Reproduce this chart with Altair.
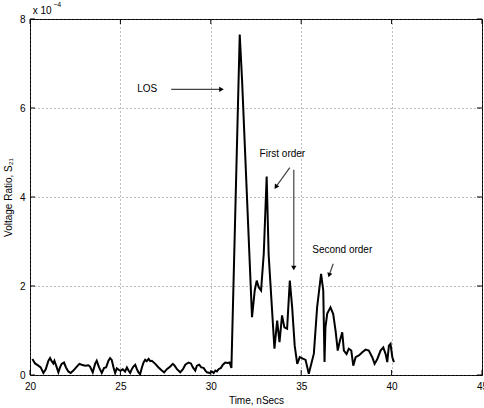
import altair as alt
import pandas as pd

# Time axis (ns) and voltage ratio |S21| in units of 1e-4
time_ns = [20.13, 20.28, 20.46, 20.59, 20.74, 20.87, 21.02, 21.11, 21.20, 21.29,
           21.35, 21.48, 21.57, 21.66, 21.75, 21.88, 21.99, 22.12, 22.25, 22.40,
           22.59, 22.73, 22.86, 23.05, 23.23, 23.32, 23.47, 23.60, 23.69, 23.82,
           23.97, 24.10, 24.21, 24.34, 24.43, 24.52, 24.62, 24.71, 24.80, 24.93,
           25.02, 25.13, 25.26, 25.36, 25.45, 25.54, 25.63, 25.72, 25.82, 25.91,
           26.00, 26.09, 26.19, 26.28, 26.37, 26.46, 26.56, 26.65, 26.74, 26.93,
           27.11, 27.29, 27.42, 27.57, 27.76, 27.90, 28.00, 28.13, 28.31, 28.46,
           28.59, 28.77, 28.90, 29.01, 29.14, 29.23, 29.36, 29.47, 29.60, 29.70,
           29.79, 29.94, 30.06, 30.16, 30.25, 30.34, 30.43, 30.56, 30.67, 30.80,
           30.93, 31.04, 31.14, 31.60, 31.73, 32.28, 32.43, 32.54, 32.65, 32.78,
           32.93, 33.09, 33.20, 33.52, 33.67, 33.80, 33.94, 34.07, 34.22, 34.37,
           34.50, 34.64, 34.78, 34.92, 35.09, 35.24, 35.42, 35.70, 35.88, 36.10,
           36.22, 36.29, 36.34, 36.44, 36.62, 36.77, 36.90, 37.02, 37.14, 37.27,
           37.36, 37.51, 37.63, 37.77, 37.88, 38.01, 38.19, 38.38, 38.56, 38.74,
           38.93, 39.06, 39.21, 39.39, 39.54, 39.67, 39.76, 39.85, 39.94, 40.04,
           40.13]
volt = [0.36, 0.26, 0.21, 0.17, 0.045, 0.13, 0.32, 0.38, 0.31, 0.26,
        0.32, 0.17, 0.06, 0.17, 0.25, 0.28, 0.17, 0.08, 0.045, 0.10,
        0.19, 0.25, 0.23, 0.21, 0.22, 0.19, 0.06, 0.25, 0.32, 0.17,
        0.045, 0.16, 0.17, 0.32, 0.38, 0.34, 0.17, 0.045, 0.15, 0.11,
        0.10, 0.13, 0.08, 0.17, 0.10, 0.045, 0.13, 0.19, 0.23, 0.13,
        0.06, 0.02, 0.17, 0.28, 0.34, 0.31, 0.36, 0.31, 0.32, 0.25,
        0.17, 0.10, 0.06, 0.13, 0.19, 0.25, 0.21, 0.13, 0.06, 0.13,
        0.23, 0.28, 0.26, 0.17, 0.10, 0.21, 0.23, 0.17, 0.16, 0.10,
        0.06, 0.045, 0.08, 0.045, 0.10, 0.08, 0.13, 0.16, 0.23, 0.28,
        0.27, 0.28, 0.16, 7.65, 6.62, 1.30, 1.90, 2.12, 1.97, 1.90,
        2.73, 4.46, 2.70, 0.59, 1.22, 0.74, 1.34, 1.07, 1.04, 2.12,
        1.52, 0.66, 0.25, 0.40, 0.37, 0.34, 0.03, 0.48, 1.52, 2.27,
        1.90, 0.29, 1.07, 1.38, 1.52, 1.37, 1.00, 0.55, 0.77, 0.96,
        0.55, 0.47, 0.59, 0.55, 0.21, 0.40, 0.44, 0.51, 0.57, 0.55,
        0.40, 0.25, 0.36, 0.55, 0.62, 0.47, 0.29, 0.66, 0.70, 0.40,
        0.29]

x_ticks = [20, 25, 30, 35, 40, 45]
y_ticks = [0, 2, 4, 6, 8]

# annotations
ann_text = ["LOS", "First order", "Second order"]
ann_x = [26.48, 33.96, 37.27]
ann_y = [6.42, 4.97, 2.80]

arrow_x1 = [27.81, 34.37, 34.59, 36.77]
arrow_y1 = [6.42, 4.66, 4.61, 2.50]
arrow_x2 = [30.55, 33.62, 34.59, 36.56]
arrow_y2 = [6.42, 4.24, 2.42, 2.26]
arrow_angle = [90, 213, 180, 198]

FONT = "Liberation Sans"
W, H = 452, 356

xs = alt.Scale(domain=[20, 45], nice=False, zero=False)
ys = alt.Scale(domain=[0, 8], nice=False)

df = pd.DataFrame({"t": time_ns, "v": volt})

base_x_axis = alt.Axis(values=x_ticks, title="Time, nSecs", grid=True,
                       gridDash=[1, 3], gridColor="#555", gridWidth=0.8,
                       ticks=False, domain=False, labelFont=FONT, labelFontSize=10,
                       labelColor="black", labelPadding=6, titleFont=FONT,
                       titleFontSize=10, titleFontWeight="normal", titleColor="black",
                       titlePadding=4, labelFlush=False)
base_y_axis = alt.Axis(values=y_ticks, title="Voltage Ratio, S₂₁", grid=True,
                       gridDash=[1, 3], gridColor="#555", gridWidth=0.8,
                       ticks=False, domain=False, labelFont=FONT, labelFontSize=10,
                       labelColor="black", labelPadding=5, titleFont=FONT,
                       titleFontSize=10, titleFontWeight="normal", titleColor="black",
                       titlePadding=6, labelFlush=False)

line = alt.Chart(df).mark_line(color="black", strokeWidth=2).encode(
    x=alt.X("t:Q", scale=xs, axis=base_x_axis),
    y=alt.Y("v:Q", scale=ys, axis=base_y_axis),
)

xt = pd.DataFrame({"t": x_ticks})
yt = pd.DataFrame({"v": y_ticks})
tick_bottom = alt.Chart(xt).mark_rule(color="black", strokeWidth=1).encode(
    x=alt.X("t:Q", scale=xs), y=alt.value(H - 5), y2=alt.value(H))
tick_top = alt.Chart(xt).mark_rule(color="black", strokeWidth=1).encode(
    x=alt.X("t:Q", scale=xs), y=alt.value(0), y2=alt.value(5))
tick_left = alt.Chart(yt).mark_rule(color="black", strokeWidth=1).encode(
    y=alt.Y("v:Q", scale=ys), x=alt.value(0), x2=alt.value(5))
tick_right = alt.Chart(yt).mark_rule(color="black", strokeWidth=1).encode(
    y=alt.Y("v:Q", scale=ys), x=alt.value(W - 5), x2=alt.value(W))

ann_df = pd.DataFrame({"x": ann_x, "y": ann_y, "txt": ann_text})
texts = alt.Chart(ann_df).mark_text(font=FONT, fontSize=10, color="black").encode(
    x=alt.X("x:Q", scale=xs), y=alt.Y("y:Q", scale=ys), text="txt:N")

arr_df = pd.DataFrame({"x1": arrow_x1, "y1": arrow_y1, "x2": arrow_x2,
                       "y2": arrow_y2, "ang": arrow_angle})
arr_lines = alt.Chart(arr_df).mark_rule(color="#444", strokeWidth=1.2).encode(
    x=alt.X("x1:Q", scale=xs), y=alt.Y("y1:Q", scale=ys),
    x2="x2:Q", y2="y2:Q")
arr_heads = alt.Chart(arr_df).mark_point(shape="triangle", filled=True, color="black",
                                         size=28, opacity=1).encode(
    x=alt.X("x2:Q", scale=xs), y=alt.Y("y2:Q", scale=ys),
    angle=alt.Angle("ang:Q", scale=None))

exp_df = pd.DataFrame({"x": [20.15], "y": [8.19], "s": ["x 10"]})
exp_sup = pd.DataFrame({"x": [21.28], "y": [8.31], "s": ["−4"]})
exp_text = alt.Chart(exp_df).mark_text(font=FONT, fontSize=10, align="left",
                                       baseline="middle", color="black", clip=False).encode(
    x=alt.X("x:Q", scale=xs), y=alt.Y("y:Q", scale=ys), text="s:N")
exp_text2 = alt.Chart(exp_sup).mark_text(font=FONT, fontSize=7, align="left",
                                         baseline="middle", color="black", clip=False).encode(
    x=alt.X("x:Q", scale=xs), y=alt.Y("y:Q", scale=ys), text="s:N")

chart = alt.layer(line, tick_bottom, tick_top, tick_left, tick_right,
                  arr_lines, arr_heads, texts, exp_text, exp_text2).properties(
    width=W, height=H,
    autosize=alt.AutoSizeParams(type="none"),
    padding={"left": 30, "top": 19, "right": 2, "bottom": 33},
    background="white",
).configure_view(stroke="black", strokeWidth=1)

chart.save("out.html", embed_options={"renderer": "svg", "actions": False})
